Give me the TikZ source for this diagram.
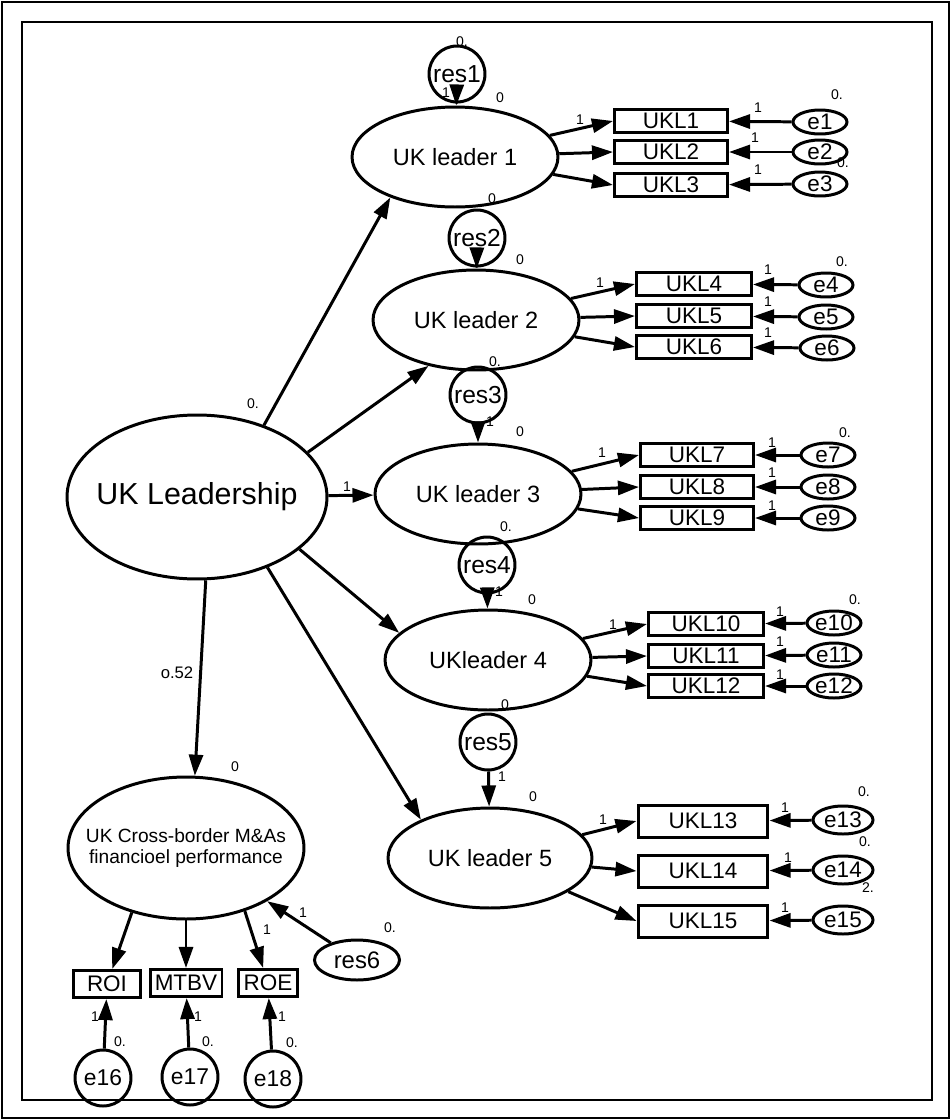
\documentclass[tikz,border=0pt]{standalone}
\usepackage{fontspec}
\setmainfont{Liberation Sans}
\usetikzlibrary{arrows.meta,shapes.geometric}

\begin{document}
\begin{tikzpicture}[x=0.02cm, y=-0.02cm,
      line width=1.7pt,
      latent/.style={draw, ellipse, inner sep=0pt,
                     minimum width=4.12cm, minimum height=2cm,
                     font=\fontsize{13.4}{15}\selectfont},
      ind/.style={draw, rectangle, inner sep=0pt,
                  minimum width=2.26cm, minimum height=0.46cm,
                  font=\fontsize{12.8}{14}\selectfont},
      err/.style={draw, ellipse, inner xsep=0pt, inner ysep=-2pt,
                  minimum width=1.08cm, minimum height=0.48cm,
                  font=\fontsize{12.8}{14}\selectfont},
      resid/.style={draw, circle, inner sep=0pt, minimum size=1.12cm,
                    font=\fontsize{14}{16}\selectfont},
      lbl/.style={inner sep=0pt, font=\fontsize{8}{9}\selectfont},
      arr/.style={-{Triangle[length=12pt,width=8pt]}}]
    \useasboundingbox (0,0) rectangle (951,1120);
    \draw[line width=1pt] (2,2) rectangle (949,1118);
    \draw[line width=0.6pt] (22,22) rectangle (932,1100);

    % latent variables
    \node[latent, minimum width=5.2cm, minimum height=3.28cm, inner xsep=-20pt,
          font=\fontsize{17.3}{19}\selectfont] (lead) at (197,497) {UK Leadership};
    \node[latent] (ld1) at (455,157) {UK leader 1};
    \node[latent] (ld2) at (476,320) {UK leader 2};
    \node[latent] (ld3) at (478,494) {UK leader 3};
    \node[latent] (ld4) at (488,660) {UKleader 4};
    \node[latent, minimum width=4.08cm] (ld5) at (490,858) {UK leader 5};
    \node[latent, minimum width=4.72cm, minimum height=2.84cm, inner xsep=-20pt,
          align=center, font=\fontsize{10.9}{11.5}\selectfont] (perf) at (186,848)
          {UK Cross-border M\&As\\financioel performance};

    % residuals
    \node[resid] (res1) at (457,74) {res1};
    \node[resid] (res2) at (477,238) {res2};
    \node[resid] (res3) at (478,395) {res3};
    \node[resid] (res4) at (487,565) {res4};
    \node[resid] (res5) at (488,742) {res5};
    \node[err, minimum width=1.7cm, minimum height=0.8cm,
          font=\fontsize{13.6}{15}\selectfont] (res6) at (357,960) {res6};

    % indicators
    \node[ind] (ukl1) at (671,121) {UKL1};
    \node[ind] (ukl2) at (671,152) {UKL2};
    \node[ind] (ukl3) at (671,185) {UKL3};
    \node[ind, minimum width=2.3cm] (ukl4) at (694,284) {UKL4};
    \node[ind, minimum width=2.3cm] (ukl5) at (694,316) {UKL5};
    \node[ind, minimum width=2.3cm] (ukl6) at (694,347) {UKL6};
    \node[ind] (ukl7) at (697,455) {UKL7};
    \node[ind] (ukl8) at (697,487) {UKL8};
    \node[ind] (ukl9) at (697,518) {UKL9};
    \node[ind, minimum width=2.3cm] (ukl10) at (706,624) {UKL10};
    \node[ind, minimum width=2.3cm] (ukl11) at (706,656) {UKL11};
    \node[ind, minimum width=2.3cm] (ukl12) at (706,686) {UKL12};
    \node[ind, minimum width=2.6cm, minimum height=0.64cm] (ukl13) at (703,821) {UKL13};
    \node[ind, minimum width=2.6cm, minimum height=0.64cm] (ukl14) at (703,871) {UKL14};
    \node[ind, minimum width=2.6cm, minimum height=0.64cm] (ukl15) at (703,921) {UKL15};
    \node[ind, minimum width=1.34cm, minimum height=0.54cm] (roi) at (107,984) {ROI};
    \node[ind, minimum width=1.44cm, minimum height=0.54cm] (mtbv) at (186,983) {MTBV};
    \node[ind, minimum width=1.18cm, minimum height=0.54cm] (roe) at (268,983) {ROE};

    % errors
    \node[err] (e1) at (820,122) {e1};
    \node[err] (e2) at (820,152) {e2};
    \node[err] (e3) at (820,184) {e3};
    \node[err] (e4) at (826,285) {e4};
    \node[err] (e5) at (826,317) {e5};
    \node[err] (e6) at (827,348) {e6};
    \node[err] (e7) at (828,455) {e7};
    \node[err] (e8) at (828,487) {e8};
    \node[err] (e9) at (828,518) {e9};
    \node[err] (e10) at (834,623) {e10};
    \node[err] (e11) at (834,655) {e11};
    \node[err] (e12) at (834,686) {e12};
    \node[err, minimum width=1.2cm, minimum height=0.56cm] (e13) at (843,820) {e13};
    \node[err, minimum width=1.2cm, minimum height=0.56cm] (e14) at (843,870) {e14};
    \node[err, minimum width=1.2cm, minimum height=0.56cm] (e15) at (843,920) {e15};
    \node[resid, font=\fontsize{13}{15}\selectfont] (e16) at (103,1078) {e16};
    \node[resid, font=\fontsize{13}{15}\selectfont] (e17) at (190,1077) {e17};
    \node[resid, font=\fontsize{13}{15}\selectfont] (e18) at (273,1079) {e18};

    % structural paths
    \draw[arr] (lead.47) -- (ld1.-148);
    \draw[arr] (lead.22) -- (ld2.-136);
    \draw[arr] (lead) -- (ld3);
    \draw[arr] (lead.-27) -- (ld4.163);
    \draw[arr] (lead.-45) -- (ld5.151);
    \draw[arr] (lead.-84) -- (perf.83);
    \draw[arr] (res1) -- (ld1);
    \draw[arr] (res2) -- (ld2);
    \draw[arr] (res3) -- (ld3);
    \draw[arr] (res4) -- (ld4);
    \draw[arr] (res5) -- (ld5);
    \draw[arr] (res6) -- (perf);

    % measurement paths
    \draw[arr] (ld1) -- (ukl1.west);
    \draw[arr] (ld1) -- (ukl2.west);
    \draw[arr] (ld1) -- (ukl3.west);
    \draw[arr] (ld2) -- (ukl4.west);
    \draw[arr] (ld2) -- (ukl5.west);
    \draw[arr] (ld2) -- (ukl6.west);
    \draw[arr] (ld3) -- (ukl7.west);
    \draw[arr] (ld3) -- (ukl8.west);
    \draw[arr] (ld3) -- (ukl9.west);
    \draw[arr] (ld4) -- (ukl10.west);
    \draw[arr] (ld4) -- (ukl11.west);
    \draw[arr] (ld4) -- (ukl12.west);
    \draw[arr] (ld5) -- (ukl13.west);
    \draw[arr] (ld5) -- (ukl14.west);
    \draw[arr] (ld5) -- (ukl15.west);
    \draw[arr] (perf.-130) -- (roi);
    \draw[arr] (perf.south) -- (mtbv);
    \draw[arr] (perf.-47) -- (roe);

    \draw[arr] (e1) -- (ukl1);
    \draw[arr] (e2) -- (ukl2);
    \draw[arr] (e3) -- (ukl3);
    \draw[arr] (e4) -- (ukl4);
    \draw[arr] (e5) -- (ukl5);
    \draw[arr] (e6) -- (ukl6);
    \draw[arr] (e7) -- (ukl7);
    \draw[arr] (e8) -- (ukl8);
    \draw[arr] (e9) -- (ukl9);
    \draw[arr] (e10) -- (ukl10);
    \draw[arr] (e11) -- (ukl11);
    \draw[arr] (e12) -- (ukl12);
    \draw[arr] (e13) -- (ukl13);
    \draw[arr] (e14) -- (ukl14);
    \draw[arr] (e15) -- (ukl15);
    \draw[arr] (e16) -- (roi);
    \draw[arr] (e17) -- (mtbv);
    \draw[arr] (e18) -- (roe);

    % estimates
    \node[lbl] (vres1) at (462,42) {0.};
    \node[lbl] (wres1) at (446,93) {1};
    \node[lbl] (vld1) at (500,98) {0};
    \node[lbl] (vres2) at (492,199) {0};
    \node[lbl] (vld2) at (520,260) {0};
    \node[lbl] (vres3) at (495,362) {0.};
    \node[lbl] (wres3) at (490,422) {1};
    \node[lbl] (vld3) at (520,432) {0};
    \node[lbl] (vres4) at (506,527) {0.};
    \node[lbl] (wres4) at (499,592) {1};
    \node[lbl] (vld4) at (532,600) {0};
    \node[lbl] (vres5) at (507,705) {0.};
    \node[lbl] (wres5) at (502,777) {1};
    \node[lbl] (vld5) at (533,797) {0};
    \node[lbl] (vlead) at (253,404) {0.};
    \node[lbl] (wld3) at (347,487) {1};
    \node[lbl, font=\fontsize{9.5}{11}\selectfont] (wperf) at (177,673) {o.52};
    \node[lbl] (vperf) at (235,767) {0};

    \node[lbl] (wukl1) at (580,120) {1};
    \node[lbl] (wukl4) at (600,283) {1};
    \node[lbl] (wukl7) at (602,453) {1};
    \node[lbl] (wukl10) at (613,625) {1};
    \node[lbl] (wukl13) at (603,820) {1};
    \node[lbl] (wroe) at (267,930) {1};
    \node[lbl] (wres6) at (303,913) {1};
    \node[lbl] (vres6) at (390,928) {0.};

    \node[lbl] (we1) at (758,108) {1};
    \node[lbl] (we2) at (755,138) {1};
    \node[lbl] (we3) at (758,170) {1};
    \node[lbl] (we4) at (768,270) {1};
    \node[lbl] (we5) at (768,302) {1};
    \node[lbl] (we6) at (768,333) {1};
    \node[lbl] (we7) at (772,443) {1};
    \node[lbl] (we8) at (772,473) {1};
    \node[lbl] (we9) at (772,506) {1};
    \node[lbl] (we10) at (780,612) {1};
    \node[lbl] (we11) at (780,642) {1};
    \node[lbl] (we12) at (780,675) {1};
    \node[lbl] (we13) at (785,808) {1};
    \node[lbl] (we14) at (788,858) {1};
    \node[lbl] (we15) at (785,908) {1};
    \node[lbl] (we16) at (95,1017) {1};
    \node[lbl] (we17) at (198,1017) {1};
    \node[lbl] (we18) at (282,1017) {1};

    \node[lbl] (ve1) at (837,95) {0.};
    \node[lbl] (ve3) at (843,163) {0.};
    \node[lbl] (ve4) at (842,262) {0.};
    \node[lbl] (ve7) at (845,433) {0.};
    \node[lbl] (ve10) at (855,600) {0.};
    \node[lbl] (ve13) at (864,792) {0.};
    \node[lbl] (ve14) at (865,842) {0.};
    \node[lbl] (ve15) at (868,888) {2.};
    \node[lbl] (ve16) at (120,1042) {0.};
    \node[lbl] (ve17) at (208,1042) {0.};
    \node[lbl] (ve18) at (292,1043) {0.};
  \end{tikzpicture}
\end{document}
